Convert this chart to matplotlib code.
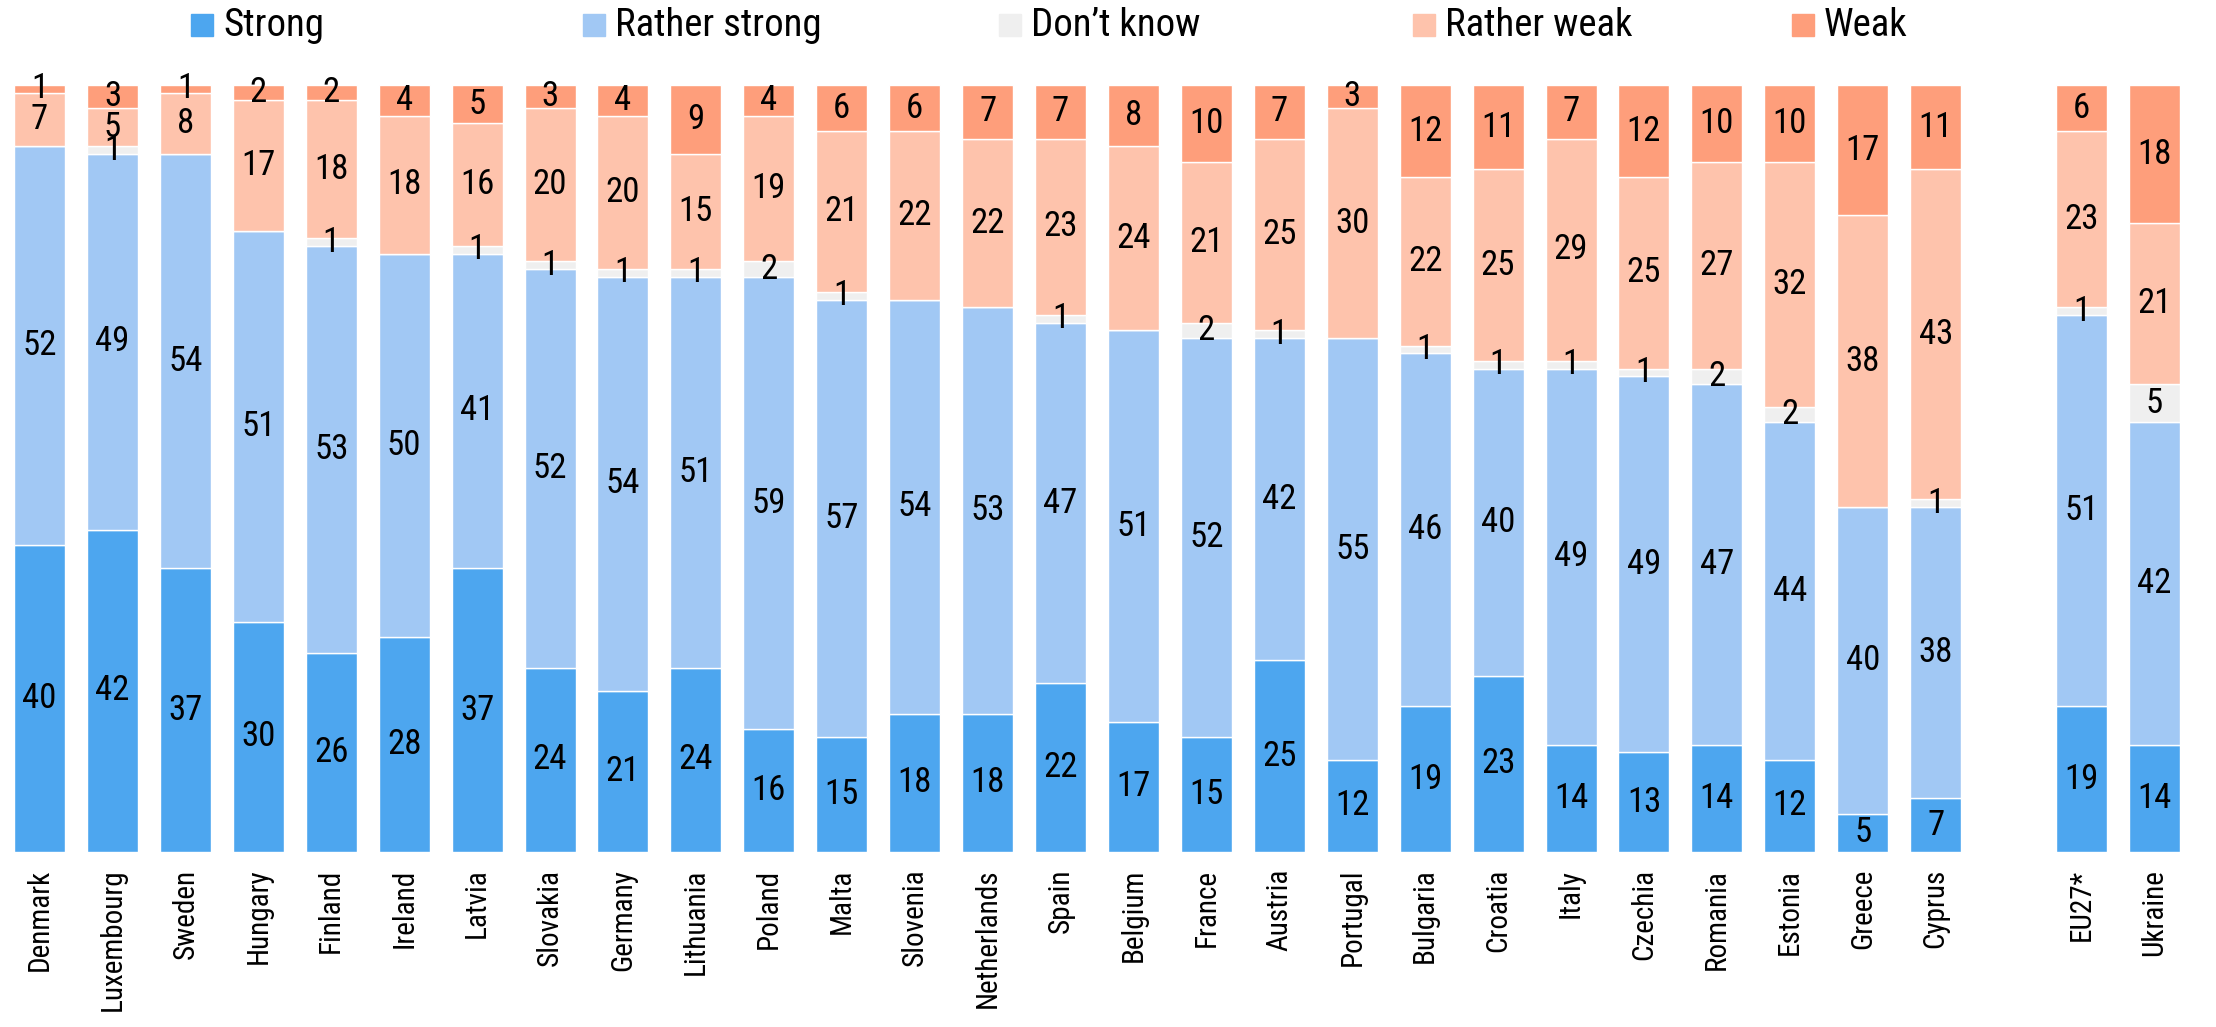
import numpy as np
import matplotlib.pyplot as plt
from matplotlib import font_manager as fm
from matplotlib.patches import Rectangle

# prefer a condensed face if there is one
installed = {f.name for f in fm.fontManager.ttflist}
condensed = [n for n in ["Roboto Condensed", "Liberation Sans Narrow", "Open Sans Condensed"] if n in installed]
if condensed:
    plt.rcParams['font.family'] = [condensed[0], 'DejaVu Sans']
    tick_fs, val_fs, leg_fs = 21, 25, 28
else:
    plt.rcParams['font.family'] = ['Roboto', 'DejaVu Sans']
    tick_fs, val_fs, leg_fs = 17, 22, 24

countries = ["Denmark", "Luxembourg", "Sweden", "Hungary", "Finland", "Ireland", "Latvia",
             "Slovakia", "Germany", "Lithuania", "Poland", "Malta", "Slovenia", "Netherlands",
             "Spain", "Belgium", "France", "Austria", "Portugal", "Bulgaria", "Croatia", "Italy",
             "Czechia", "Romania", "Estonia", "Greece", "Cyprus", "", "EU27*", "Ukraine"]

strong =        [40, 42, 37, 30, 26, 28, 37, 24, 21, 24, 16, 15, 18, 18, 22, 17, 15, 25, 12, 19, 23, 14, 13, 14, 12, 5, 7, 0, 19, 14]
rather_strong = [52, 49, 54, 51, 53, 50, 41, 52, 54, 51, 59, 57, 54, 53, 47, 51, 52, 42, 55, 46, 40, 49, 49, 47, 44, 40, 38, 0, 51, 42]
dont_know =     [0, 1, 0, 0, 1, 0, 1, 1, 1, 1, 2, 1, 0, 0, 1, 0, 2, 1, 0, 1, 1, 1, 1, 2, 2, 0, 1, 0, 1, 5]
rather_weak =   [7, 5, 8, 17, 18, 18, 16, 20, 20, 15, 19, 21, 22, 22, 23, 24, 21, 25, 30, 22, 25, 29, 25, 27, 32, 38, 43, 0, 23, 21]
weak =          [1, 3, 1, 2, 2, 4, 5, 3, 4, 9, 4, 6, 6, 7, 7, 8, 10, 7, 3, 12, 11, 7, 12, 10, 10, 17, 11, 0, 6, 18]

series = [("Strong", strong, "#4DA6EF"),
          ("Rather strong", rather_strong, "#A1C8F4"),
          ("Don\u2019t know", dont_know, "#EFEFEF"),
          ("Rather weak", rather_weak, "#FEC3AC"),
          ("Weak", weak, "#FE9E7B")]

fig = plt.figure(figsize=(22.16, 10.27), dpi=100)
ax = fig.add_axes([14 / 2216, 1 - 852 / 1027, 2166 / 2216, (852 - 85) / 1027])

x = np.arange(len(countries))
bottom = np.zeros(len(countries))
for name, vals, color in series:
    vals = np.array(vals, dtype=float)
    ax.bar(x, vals, bottom=bottom, width=0.7, color=color, edgecolor="white", linewidth=1)
    for xi, b, v, c in zip(x, bottom, vals, countries):
        if v > 0 and c:
            ax.text(xi, b + v / 2, f"{int(v)}", ha="center", va="center", fontsize=val_fs, color="black")
    bottom += vals

ax.set_xlim(-0.35, len(countries) - 0.65)
ax.set_ylim(0, 100)
ax.set_xticks(x)
ax.set_xticklabels(countries, rotation=90, fontsize=tick_fs, va="top")
ax.tick_params(axis="x", length=0, pad=12)
ax.set_yticks([])
for s in ax.spines.values():
    s.set_visible(False)

# legend drawn by hand
leg_x = [191, 583, 999, 1413, 1792]
for (name, _, color), lx in zip(series, leg_x):
    fig.patches.append(Rectangle((lx / 2216, 1 - 36 / 1027), 22 / 2216, 22 / 1027,
                                 transform=fig.transFigure, color=color))
    fig.text((lx + 32) / 2216, 1 - 25 / 1027, name, ha="left", va="center", fontsize=leg_fs)

fig.savefig("out.png", dpi=100)
